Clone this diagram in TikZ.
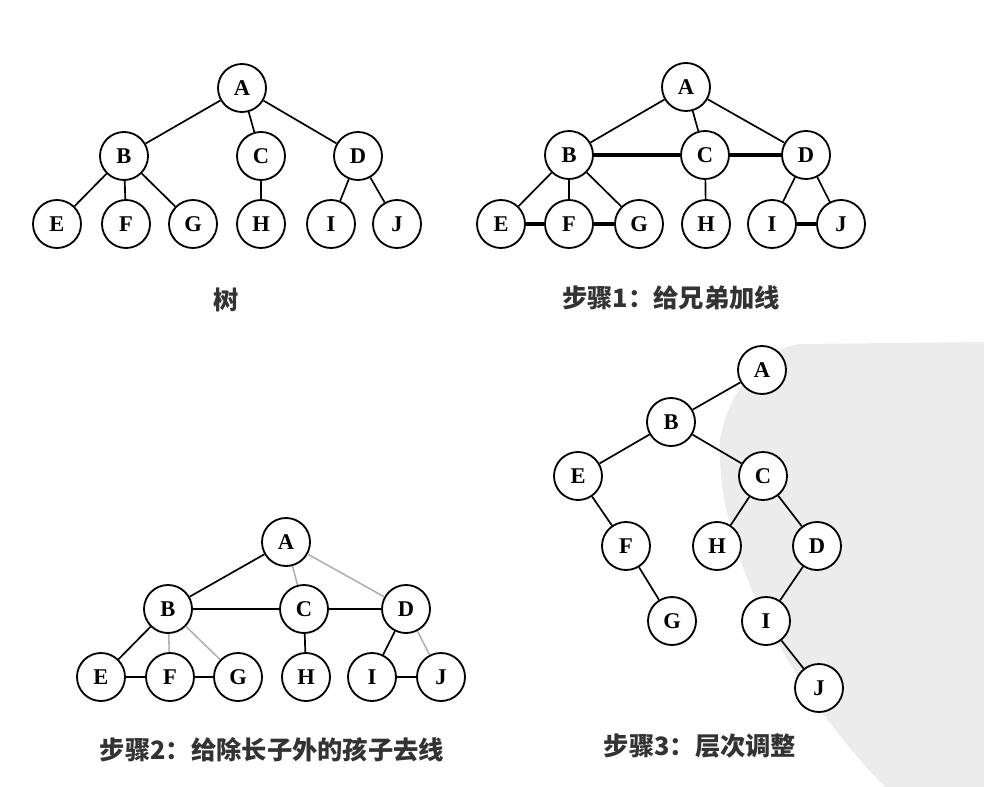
\documentclass[tikz,border=0pt]{standalone}
\usepackage{fontspec}
\setmainfont{Liberation Serif}
\newfontfamily\cjk{Noto Sans CJK SC}
\usepackage{xcolor}
\definecolor{hellgrau}{RGB}{175,175,175}
\definecolor{wasserzeichen}{RGB}{236,236,236}

\begin{document}
\begin{tikzpicture}[x=0.025cm, y=-0.025cm,
    knoten/.style={circle, draw, line width=1.3pt, fill=white, minimum size=1.2cm, inner sep=0pt, font=\fontsize{16}{16}\selectfont\bfseries},
    kante/.style={line width=1.2pt},
    bruder/.style={line width=2.2pt},
    entfernt/.style={hellgrau, line width=1.1pt},
    titel/.style={font=\cjk\bfseries\fontsize{18}{20}\selectfont, text=black!80}]
    % Rahmen in Pixelmassen des Vorbilds
    \useasboundingbox (0,0) rectangle (984,787);

    % Wasserzeichen rechts unten
    \fill[wasserzeichen] (984,342) -- (800,344) .. controls (765,348) and (728,390) .. (720,440)
        .. controls (715,560) and (800,700) .. (885,787) -- (984,787) -- cycle;

    % Baum
    \foreach \n/\x/\y in {A/242/88, B/124/156, C/261/156, D/358/156,
        E/57/224, F/126/224, G/193/224, H/261/224, I/331/224, J/397/224}
        \node[knoten] (t\n) at (\x,\y) {\n};
    \foreach \u/\v in {A/B, A/C, A/D, B/E, B/F, B/G, C/H, D/I, D/J}
        \draw[kante] (t\u) -- (t\v);
    \node[titel] (titelA) at (226,300) {树};

    % Schritt 1: Brueder verbinden
    \foreach \n/\x/\y in {A/686/87, B/569/155, C/705/155, D/806/155,
        E/501/224, F/569/224, G/639/224, H/706/224, I/772/224, J/841/224}
        \node[knoten] (s\n) at (\x,\y) {\n};
    \foreach \u/\v in {A/B, A/C, A/D, B/E, B/F, B/G, C/H, D/I, D/J}
        \draw[kante] (s\u) -- (s\v);
    \foreach \u/\v in {B/C, C/D, E/F, F/G, I/J}
        \draw[bruder] (s\u) -- (s\v);
    \node[titel] (titelB) at (671,298) {步骤1：给兄弟加线};

    % Schritt 2: Linien ausser zum ersten Kind entfernen
    \foreach \n/\x/\y in {A/286/542, B/168/609, C/304/609, D/406/609,
        E/101/677, F/170/677, G/238/677, H/306/677, I/372/677, J/441/677}
        \node[knoten] (r\n) at (\x,\y) {\n};
    \foreach \u/\v in {A/C, A/D, B/F, B/G, D/J}
        \draw[entfernt] (r\u) -- (r\v);
    \foreach \u/\v in {A/B, B/E, C/H, D/I, B/C, C/D, E/F, F/G, I/J}
        \draw[kante] (r\u) -- (r\v);
    \node[titel] (titelC) at (272,750) {步骤2：给除长子外的孩子去线};

    % Schritt 3: Ebenen anpassen
    \foreach \n/\x/\y in {A/762/370, B/671/422, E/578/476, C/763/476, F/626/546,
        H/717/546, D/817/546, G/672/621, I/766/621, J/819/688}
        \node[knoten] (u\n) at (\x,\y) {\n};
    \foreach \u/\v in {A/B, B/E, B/C, E/F, F/G, C/H, C/D, D/I, I/J}
        \draw[kante] (u\u) -- (u\v);
    \node[titel] (titelD) at (700,746) {步骤3：层次调整};
\end{tikzpicture}
\end{document}
